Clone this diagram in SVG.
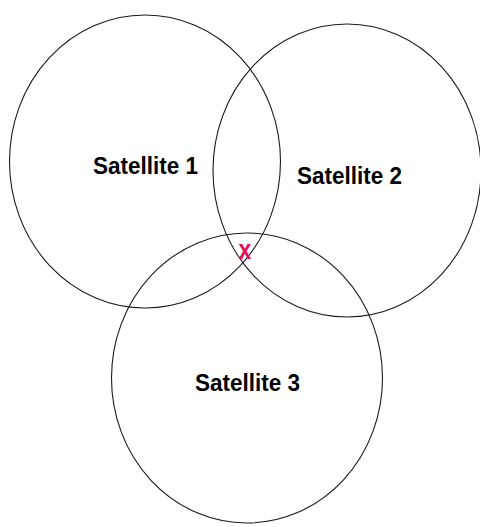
<svg xmlns="http://www.w3.org/2000/svg" width="480" height="527" viewBox="0 0 480 527">
<style>
.c{fill:none;stroke:#1a1a1a;stroke-width:1.1}
.t{font-family:"Liberation Sans",Arial,sans-serif;font-weight:bold;font-size:22.5px;fill:#000;text-anchor:middle}
.x{font-family:"Liberation Sans",Arial,sans-serif;font-weight:bold;font-size:23px;fill:#e0105a;text-anchor:middle}
</style>
<rect width="480" height="527" fill="#fff"/>
<g id="sat1">
<ellipse class="c" cx="145" cy="161.5" rx="135.5" ry="146.5"/>
<text class="t" transform="translate(145.5,174) scale(1,1.1)">Satellite 1</text>
</g>
<g id="sat2">
<ellipse class="c" cx="347" cy="170.5" rx="134" ry="146.5"/>
<text class="t" transform="translate(349.5,184) scale(1,1.1)">Satellite 2</text>
</g>
<g id="sat3">
<ellipse class="c" cx="247" cy="378" rx="135.5" ry="145"/>
<text class="t" transform="translate(247.5,391) scale(1,1.1)">Satellite 3</text>
</g>
<g id="position">
<text class="x" transform="translate(245,259) scale(1,1.2)">x</text>
</g>
</svg>
